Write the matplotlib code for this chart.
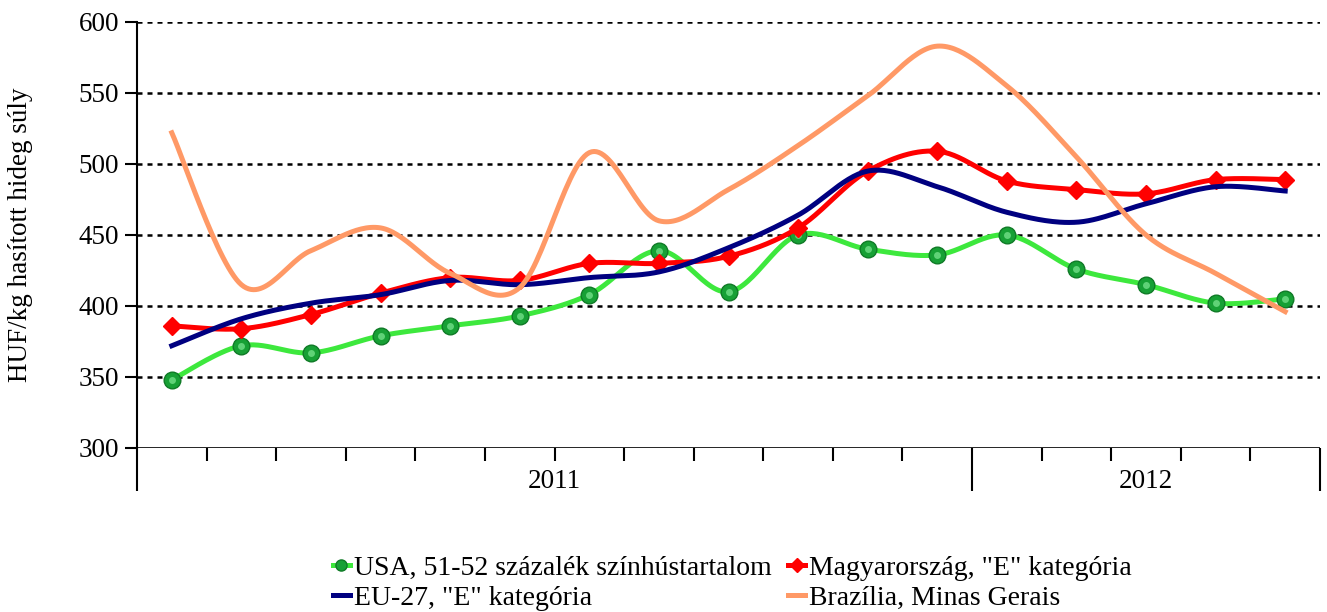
import numpy as np
import matplotlib.pyplot as plt
import matplotlib.transforms as mtransforms
from matplotlib.lines import Line2D

# 2011 jan - 2012 may, monthly
months = list(range(17))
years = ['2011', '2012']
months_per_year = [12, 5]

usa = [348, 372, 367, 379, 386, 393, 408, 439, 410, 450, 440, 436, 450, 426, 415, 402, 405]
hun = [386, 384, 394, 409, 420, 418, 430, 430, 435, 455, 495, 509, 488, 482, 479, 489, 489]
eu27 = [372, 391, 402, 408, 418, 415, 420, 424, 441, 464, 495, 484, 466, 459, 472, 484, 481]
bra = [522, 415, 439, 455, 423, 413, 508, 460, 482, 513, 548, 583, 555, 505, 450, 423, 396]

labels = ['USA, 51-52 százalék színhústartalom', 'Magyarország, "E" kategória',
          'EU-27, "E" kategória', 'Brazília, Minas Gerais']

plt.rcParams['font.family'] = 'serif'
plt.rcParams['font.serif'] = ['Liberation Serif', 'DejaVu Serif']


def smooth(x, y, n=30):
    # catmull-rom, like the smoothed lines in Excel
    x = np.asarray(x, float)
    y = np.asarray(y, float)
    px = np.concatenate([[x[0]], x, [x[-1]]])
    py = np.concatenate([[y[0]], y, [y[-1]]])
    t = np.linspace(0, 1, n)
    xs, ys = [], []
    for i in range(1, len(px) - 2):
        for p, out in ((px, xs), (py, ys)):
            p0, p1, p2, p3 = p[i - 1], p[i], p[i + 1], p[i + 2]
            out.extend(0.5 * (2 * p1 + (-p0 + p2) * t + (2 * p0 - 5 * p1 + 4 * p2 - p3) * t ** 2
                              + (-p0 + 3 * p1 - 3 * p2 + p3) * t ** 3))
    return np.array(xs), np.array(ys)


fig = plt.figure(figsize=(13.27, 6.12), dpi=100)
ax = fig.add_axes([137 / 1327, 1 - 448 / 612, (1320 - 137) / 1327, (448 - 22) / 612])

for v in range(350, 601, 50):
    ax.axhline(v, color='black', lw=1.8, ls=(0, (2, 2)), zorder=1)
ax.axhline(300, color='black', lw=1.2, zorder=1)

green = '#3de83d'
ax.plot(*smooth(months, usa), color=green, lw=3.6, zorder=3)
ax.plot(months, usa, ls='none', marker='o', ms=12, mfc='#17a035', mec='#0f7a26', mew=1, zorder=3.1)
ax.plot(months, usa, ls='none', marker='o', ms=5, mfc='#7fe894', mec='none', alpha=0.7, zorder=3.2)
ax.plot(*smooth(months, hun), color='#ff0000', lw=3.6, zorder=4)
ax.plot(months, hun, ls='none', marker='D', ms=9, color='#ff0000', zorder=4.1)
ax.plot(*smooth(months, eu27), color='#000080', lw=3.6, zorder=5)
ax.plot(*smooth(months, bra), color='#ff9966', lw=3.6, zorder=6)

ax.set_xlim(-0.5, 16.5)
ax.set_ylim(300, 600)
ax.set_yticks(range(300, 601, 50))
ax.tick_params(axis='y', direction='out', length=9, width=1.5, labelsize=19.5, pad=4)

bounds = np.cumsum([0] + months_per_year) - 0.5
ax.set_xticks(bounds)
ax.set_xticks(np.arange(-0.5, 17, 1), minor=True)
ax.tick_params(axis='x', which='major', direction='out', length=31, width=1.5, labelbottom=False)
ax.tick_params(axis='x', which='minor', direction='out', length=9, width=1.5)

trans = mtransforms.blended_transform_factory(ax.transData, ax.transAxes)
for yr, a, b in zip(years, bounds[:-1], bounds[1:]):
    ax.text((a + b) / 2, -0.078, yr, transform=trans, ha='center', va='center', fontsize=19.5)

for s in ['top', 'right', 'bottom']:
    ax.spines[s].set_visible(False)
ax.spines['left'].set_linewidth(1.5)
ax.spines['left'].set_bounds(300, 600)

ax.set_ylabel('HUF/kg hasított hideg súly', fontsize=19.5)
ax.yaxis.set_label_coords(-0.088, 0.5)

handles = [
    Line2D([], [], color=green, lw=3.6, marker='o', ms=8, mfc='#17a035', mec='#0f7a26'),
    Line2D([], [], color='#000080', lw=3.6),
    Line2D([], [], color='#ff0000', lw=3.6, marker='D', ms=7),
    Line2D([], [], color='#ff9966', lw=3.6),
]
fig.legend(handles, [labels[0], labels[2], labels[1], labels[3]], ncol=2, frameon=False,
           loc='center', bbox_to_anchor=(0.552, 0.047), fontsize=20, handlelength=0.6,
           handletextpad=0.15, columnspacing=0.6, labelspacing=0.15)

fig.savefig('out.png', dpi=100)
